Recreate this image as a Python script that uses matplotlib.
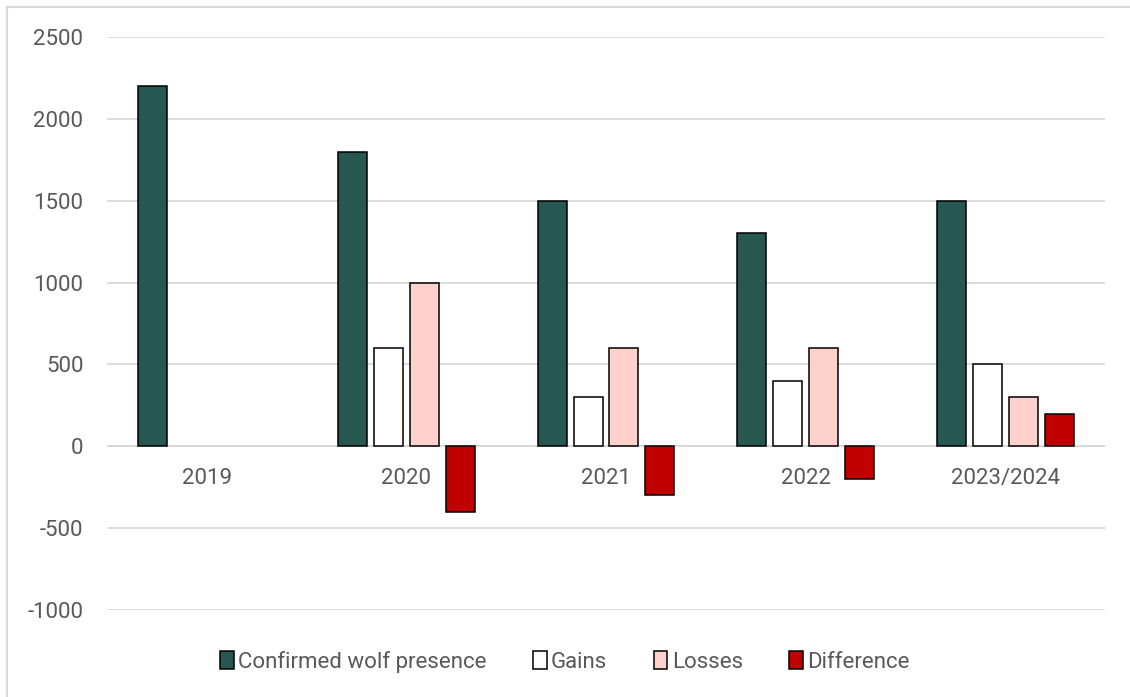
import numpy as np
import matplotlib
matplotlib.use('Agg')
import matplotlib.pyplot as plt
from matplotlib.lines import Line2D

# データ
categories = ['2019', '2020', '2021', '2022', '2023/2024']
presence = [2200, 1800, 1500, 1300, 1500]
gains = [np.nan, 600, 300, 400, 500]
losses = [np.nan, 1000, 600, 600, 300]
difference = [np.nan, -400, -300, -200, 200]

series = [
    ('Confirmed wolf presence', presence, '#265750'),
    ('Gains', gains, '#ffffff'),
    ('Losses', losses, '#ffd1cc'),
    ('Difference', difference, '#c00000'),
]

plt.rcParams['font.family'] = ['Roboto', 'DejaVu Sans']
plt.rcParams['axes.unicode_minus'] = False
text_color = '#595959'
grid_color = '#d9d9d9'
fs = 16

fig = plt.figure(figsize=(11.3, 6.97), dpi=100)
ax = fig.add_axes([107 / 1130, 1 - 610 / 697, 998 / 1130, 573 / 697])

x = np.arange(len(categories))
step = 0.18
width = 0.145
for i, (name, vals, color) in enumerate(series):
    ax.bar(x + (i - 1.5) * step, vals, width, color=color, edgecolor='black',
           linewidth=1.1, label=name, zorder=3)

ax.set_xlim(-0.5, len(categories) - 0.5)
ax.set_ylim(-1000, 2500)
ax.set_yticks(np.arange(-1000, 2501, 500))
ax.yaxis.grid(True, color=grid_color, linewidth=1.3, zorder=0)
ax.axhline(0, color=grid_color, linewidth=1.3, zorder=1)
for s in ax.spines.values():
    s.set_visible(False)
ax.tick_params(axis='y', length=0, pad=17, labelsize=fs, labelcolor=text_color)
ax.set_xticks([])

# カテゴリラベル（ゼロ線の下）
for xi, lab in zip(x, categories):
    ax.annotate(lab, (xi, 0), xytext=(0, -23.5), textcoords='offset points',
                ha='center', va='center', fontsize=fs, color=text_color)

leg = ax.legend(loc='center', bbox_to_anchor=(0.5, (697 - 662) / 697),
                bbox_transform=fig.transFigure, ncol=4, frameon=False,
                fontsize=fs, handlelength=0.6, handleheight=0.85,
                handletextpad=0.2, columnspacing=2.1)
for t in leg.get_texts():
    t.set_color(text_color)

# 外枠
fig.add_artist(Line2D([7 / 1130, 1], [1 - 7 / 697, 1 - 7 / 697],
                      transform=fig.transFigure, color=grid_color, linewidth=1.5))
fig.add_artist(Line2D([7 / 1130, 7 / 1130], [0, 1 - 7 / 697],
                      transform=fig.transFigure, color=grid_color, linewidth=1.5))

fig.savefig('out.png', dpi=100)
